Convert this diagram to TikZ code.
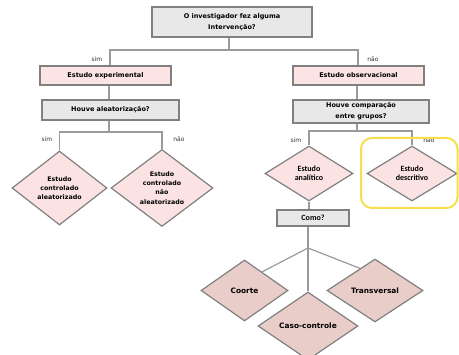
\documentclass[tikz,border=0pt]{standalone}
\usepackage{fontspec}
\setmainfont{DejaVu Sans}
\newfontfamily\carl{Carlito}
\usetikzlibrary{shapes.geometric,calc}
\definecolor{linec}{HTML}{9A9A9A}
\definecolor{bordc}{HTML}{808080}
\definecolor{grayf}{HTML}{E8E8E8}
\definecolor{pinkf}{HTML}{FCE4E4}
\definecolor{diaf}{HTML}{FBE3E3}
\definecolor{diab}{HTML}{E8CDC8}
\definecolor{yel}{HTML}{F5DF4D}
\tikzset{
  conn/.style={draw=linec, line width=1.2pt},
  gbox/.style={draw=bordc, fill=grayf, line width=1.3pt, inner sep=0pt, align=center,
    font=\fontsize{6.5}{11}\selectfont\bfseries},
  pbox/.style={gbox, fill=pinkf},
  dia/.style={diamond, draw=bordc, fill=diaf, line width=1.2pt, inner sep=0pt, align=center},
  diaL/.style={dia, font=\fontsize{6.3}{9.2}\selectfont\bfseries},
  diaR/.style={dia, font=\carl\fontsize{8}{9.4}\selectfont\bfseries},
  diaB/.style={dia, fill=diab, font=\fontsize{7.4}{9}\selectfont\bfseries},
  lbl/.style={font=\fontsize{6}{7}\selectfont, inner sep=0pt, text=black!80}
}
\begin{document}
\begin{tikzpicture}[x=1pt,y=-1pt]
\useasboundingbox (0,0) rectangle (459,355);
\begin{scope}
\clip (0,0) rectangle (459,355);
% boxes
\node[gbox, minimum width=160pt, minimum height=30pt] (top) at (232,22) {O investigador fez alguma\\Intervenção?};
\node[pbox, minimum width=131pt, minimum height=19pt] (exp) at (105.5,75.5) {Estudo experimental};
\node[pbox, minimum width=131pt, minimum height=19pt] (obs) at (358.5,75.5) {Estudo observacional};
\node[gbox, minimum width=137pt, minimum height=20pt] (aleat) at (110.5,110) {Houve aleatorização?};
\node[gbox, minimum width=136pt, minimum height=23pt] (comp) at (361,111.5) {Houve comparação\\entre grupos?};
\node[gbox, minimum width=72pt, minimum height=16pt, font=\carl\fontsize{8}{9}\selectfont\bfseries] (como) at (313,218) {Como?};
% diamonds
\node[diaL, minimum width=95pt, minimum height=74pt] (d1) at (59.5,188) {Estudo\\controlado\\aleatorizado};
\node[diaL, minimum width=102pt, minimum height=77pt] (d2) at (162,188) {Estudo\\controlado\\não\\aleatorizado};
\node[diaR, minimum width=88pt, minimum height=55pt] (ana) at (309,173.5) {Estudo\\analítico};
\node[diaR, minimum width=90pt, minimum height=55pt] (desc) at (412,173.5) {Estudo\\descritivo};
\node[diaB, minimum width=87pt, minimum height=61pt] (coorte) at (244.5,290.5) {Coorte};
\node[diaB, minimum width=96pt, minimum height=63pt] (trans) at (375,290.5) {Transversal};
\node[diaB, minimum width=100pt, minimum height=68pt] (caso) at (308,326) {Caso-controle};
% junctions
\coordinate (j0) at (229,50);
\coordinate (jL) at (110,50);
\coordinate (jR) at (358,50);
\coordinate (xl) at (109,0);
\coordinate (xr) at (357,0);
\coordinate (bl) at (109,132);
\coordinate (br) at (357,131);
\coordinate (jc) at (308,248);
% connectors
\draw[conn] (j0 |- top.south) -- (j0);
\draw[conn] (jL |- exp.north) -- (jL) -- (jR) -- (jR |- obs.north);
\draw[conn] (xl |- exp.south) -- (xl |- aleat.north);
\draw[conn] (xr |- obs.south) -- (xr |- comp.north);
\draw[conn] (bl |- aleat.south) -- (bl);
\draw[conn] (d1.north) |- (bl) -| (d2.north);
\draw[conn] (br |- comp.south) -- (br);
\draw[conn] (ana.north) |- (br) -| (desc.north);
\draw[conn] (ana.south) -- (ana.south |- como.north);
\draw[conn, line width=2.2pt] (jc |- como.south) -- (jc);
\draw[conn] (jc) -- ($(coorte.north)!0.4!(coorte.east)$);
\draw[conn] (jc) -- (caso.north);
\draw[conn] (jc) -- ($(trans.north)!0.31!(trans.west)$);
% labels
\node[lbl] (l1) at (97,59) {sim};
\node[lbl] (l2) at (373,59) {não};
\node[lbl] (l3) at (47,139) {sim};
\node[lbl] (l4) at (179,139) {não};
\node[lbl] (l5) at (296,140) {sim};
\node[lbl] (l6) at (429,140) {não};
% highlight
\draw[draw=yel, line width=2pt, rounded corners=11pt] (361,138) rectangle (457.5,208);
\end{scope}
\end{tikzpicture}
\end{document}
